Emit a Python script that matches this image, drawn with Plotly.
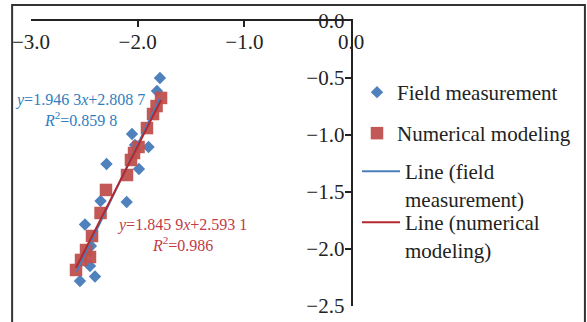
import plotly.graph_objects as go

# Field measurement points (x, y)
field_x = [-1.791, -1.819, -2.053, -2.025, -1.898, -2.292, -1.988, -2.348,
           -2.103, -2.494, -2.438, -2.447, -2.400, -2.541]
field_y = [-0.500, -0.614, -0.991, -1.088, -1.105, -1.254, -1.298, -1.579,
           -1.588, -1.785, -1.974, -2.149, -2.241, -2.281]

# Numerical modeling points (x, y)
model_x = [-1.781, -1.823, -1.856, -1.913, -1.992, -2.034, -2.063, -2.100,
           -2.297, -2.348, -2.428, -2.484, -2.447, -2.531, -2.578]
model_y = [-0.675, -0.746, -0.816, -0.939, -1.105, -1.158, -1.219, -1.351,
           -1.482, -1.684, -1.886, -2.009, -2.070, -2.096, -2.184]

# Linear trend lines: slope, intercept, R^2 and drawn x extent
field_fit = {"slope": 1.9463, "intercept": 2.8087, "r2": 0.8598, "x": [-2.572, -1.791]}
model_fit = {"slope": 1.8459, "intercept": 2.5931, "r2": 0.986, "x": [-2.578, -1.781]}

x_ticks = [-3.0, -2.0, -1.0, 0.0]
y_ticks = [0.0, -0.5, -1.0, -1.5, -2.0, -2.5]

FONT = "Liberation Serif"
BLUE = "#4F81BD"
RED = "#C0504D"


def fit_line(fit):
    xs = fit["x"]
    return xs, [fit["slope"] * v + fit["intercept"] for v in xs]


def spaced(v, nd):
    # digits after the point grouped in threes, e.g. 1.946 3
    s = f"{v:.{nd}f}"
    whole, frac = s.split(".")
    groups = [frac[i:i + 3] for i in range(0, len(frac), 3)]
    return whole + "." + " ".join(groups)


def equation(fit, r2_digits):
    return (f"<i>y</i>={spaced(fit['slope'], 4)}<i>x</i>+{spaced(fit['intercept'], 4)}"
            f"<br><i>R</i><sup>2</sup>={spaced(fit['r2'], r2_digits)}")


fig = go.Figure()

fig.add_trace(go.Scatter(
    x=field_x, y=field_y, mode="markers", name="Field measurement",
    marker=dict(symbol="diamond", size=9.5, color=BLUE),
    legend="legend",
))
fig.add_trace(go.Scatter(
    x=model_x, y=model_y, mode="markers", name="Numerical modeling",
    marker=dict(symbol="square", size=12.5, color=RED, opacity=0.95),
    legend="legend2",
))
fx, fy = fit_line(field_fit)
fig.add_trace(go.Scatter(
    x=fx, y=fy, mode="lines", name="Line (field<br>measurement)",
    line=dict(color="#4A7EBB", width=2), legend="legend3",
))
mx, my = fit_line(model_fit)
fig.add_trace(go.Scatter(
    x=mx, y=my, mode="lines", name="Line (numerical<br>modeling)",
    line=dict(color="#B3282E", width=2), legend="legend4",
))

fig.add_annotation(
    x=-2.541, y=-0.781, xref="x", yref="y", text=equation(field_fit, 4),
    showarrow=False, align="center", font=dict(family=FONT, size=16, color="#2F7EBF"),
)
fig.add_annotation(
    x=-1.580, y=-1.873, xref="x", yref="y", text=equation(model_fit, 3),
    showarrow=False, align="center", font=dict(family=FONT, size=16, color="#C23B48"),
)

# outer frame around the whole figure
fig.add_shape(
    type="rect", xref="paper", yref="paper",
    x0=-0.059, x1=1.731, y0=-0.1, y1=1.056,
    line=dict(color="#333333", width=2), layer="below",
)

legend_common = dict(
    xref="container", yref="container", bgcolor="rgba(0,0,0,0)",
    borderwidth=0, font=dict(family=FONT, size=21, color="#222222"),
    valign="top", xanchor="left", yanchor="top",
)
fig.update_layout(
    width=587, height=322,
    margin=dict(l=31, r=236, t=21, b=16, autoexpand=False),
    paper_bgcolor="white", plot_bgcolor="white",
    font=dict(family=FONT, size=20, color="#222222"),
    showlegend=True,
    legend=dict(x=357 / 587, y=1 - 72 / 322, **legend_common),
    legend2=dict(x=357 / 587, y=1 - 113 / 322, **legend_common),
    legend3=dict(x=357 / 587, y=1 - 151 / 322, itemwidth=38, **legend_common),
    legend4=dict(x=357 / 587, y=1 - 202 / 322, itemwidth=38, **legend_common),
    xaxis=dict(
        range=[-3.0, 0.0], side="top", showline=True, linecolor="#222222", linewidth=1.5,
        ticks="inside", ticklen=6, tickwidth=1.5, tickcolor="#222222",
        tickvals=x_ticks, tickformat=".1f", ticklabelposition="inside",
        ticklabelstandoff=9,
        ticklabeloverflow="allow", showgrid=False, zeroline=False,
        tickfont=dict(family=FONT, size=21, color="#222222"),
    ),
    yaxis=dict(
        range=[-2.5, 0.0], side="right", showline=True, linecolor="#222222", linewidth=1.5,
        ticks="inside", ticklen=6, tickwidth=1.5, tickcolor="#222222",
        tickvals=y_ticks, tickformat=".1f", ticklabelposition="inside",
        ticklabelstandoff=2,
        ticklabeloverflow="allow", showgrid=False, zeroline=False,
        tickfont=dict(family=FONT, size=21, color="#222222"),
    ),
)

fig.write_html("out.html")
